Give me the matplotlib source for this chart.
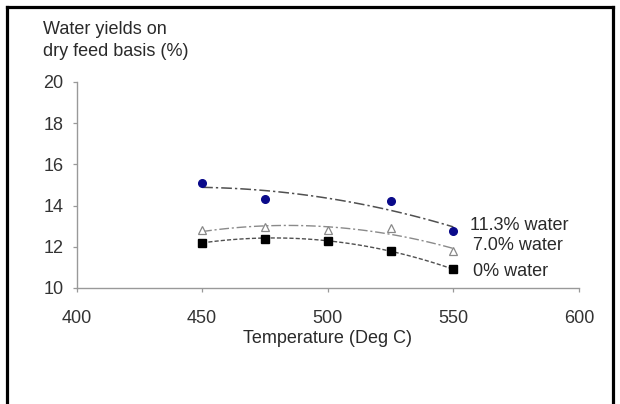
import numpy as np
import matplotlib
matplotlib.use("Agg")
import matplotlib.pyplot as plt
from matplotlib.lines import Line2D
from matplotlib.transforms import Affine2D

plt.rcParams['font.family'] = ['Liberation Sans', 'DejaVu Sans']

temps_113 = [450, 475, 525, 550]
vals_113 = [15.1, 14.3, 14.2, 12.75]
temps_70 = [450, 475, 500, 525, 550]
vals_70 = [12.8, 12.95, 12.8, 12.9, 11.8]
temps_0 = [450, 475, 500, 525, 550]
vals_0 = [12.2, 12.4, 12.3, 11.8, 10.9]
labels = ["11.3% water", "7.0% water", "0% water"]
xticks = [400, 450, 500, 550, 600]
yticks = [10, 12, 14, 16, 18, 20]

W, H = 620, 404
fig = plt.figure(figsize=(W / 100, H / 100), dpi=100)
ax = fig.add_axes([76.5 / W, 1 - 288 / H, (579 - 76.5) / W, (288 - 82) / H])

def trend(x, y, color, ls, lw):
    c = np.polyfit(x, y, 2)
    xs = np.linspace(min(x), max(x), 100)
    ax.plot(xs, np.polyval(c, xs), color=color, ls=ls, lw=lw, zorder=2)

trend(temps_113, vals_113, '#505050', (0, (7, 2, 1.5, 2)), 1.1)
trend(temps_70, vals_70, '#8a8a8a', (0, (7, 2, 1.5, 2)), 1.0)
trend(temps_0, vals_0, '#505050', (0, (3, 1.5)), 1.0)

ax.plot(temps_113, vals_113, 'o', ms=5.5, color='#0a0a8a', mec='#0a0a8a', ls='none', zorder=3)
ax.plot(temps_70, vals_70, '^', ms=6, mfc='white', mec='#888888', mew=0.9, ls='none', zorder=3)
ax.plot(temps_0, vals_0, 's', ms=5.5, color='black', ls='none', zorder=3)

# pixel transform (origin top-left)
pix = Affine2D().scale(1 / W, -1 / H).translate(0, 1) + fig.transFigure
label_pos = [(470, 229.5), (473, 249.5), (473, 276.5)]
for lab, (px, py) in zip(labels, label_pos):
    fig.text(px, py, lab, fontsize=13, color='#2a2a2a', va='baseline', ha='left', transform=pix)

ax.set_xlim(400, 600)
ax.set_ylim(10, 20)
ax.set_xticks(xticks)
ax.set_yticks(yticks)
ax.tick_params(axis='both', colors='#999999', labelcolor='#333333', labelsize=13, length=3, width=0.9)
ax.tick_params(axis='x', pad=12.5)
ax.tick_params(axis='y', pad=6.5)
for s in ['top', 'right']:
    ax.spines[s].set_visible(False)
for s in ['left', 'bottom']:
    ax.spines[s].set_color('#999999')
    ax.spines[s].set_linewidth(1.0)

ax.set_xlabel("Temperature (Deg C)", fontsize=13, color='#2a2a2a', labelpad=2.5)
fig.text(43, 33.5, "Water yields on", fontsize=13, color='#2a2a2a', va='baseline', ha='left', transform=pix)
fig.text(43, 56.5, "dry feed basis (%)", fontsize=13, color='#2a2a2a', va='baseline', ha='left', transform=pix)

fig.add_artist(Line2D([6.5, 6.5], [H, 6.5], color='black', lw=2.3, transform=pix))
fig.add_artist(Line2D([6.5, 612.5], [6.5, 6.5], color='black', lw=2.3, transform=pix))
fig.add_artist(Line2D([612.5, 612.5], [6.5, H], color='black', lw=2.3, transform=pix))

fig.savefig("out.png", dpi=100)
